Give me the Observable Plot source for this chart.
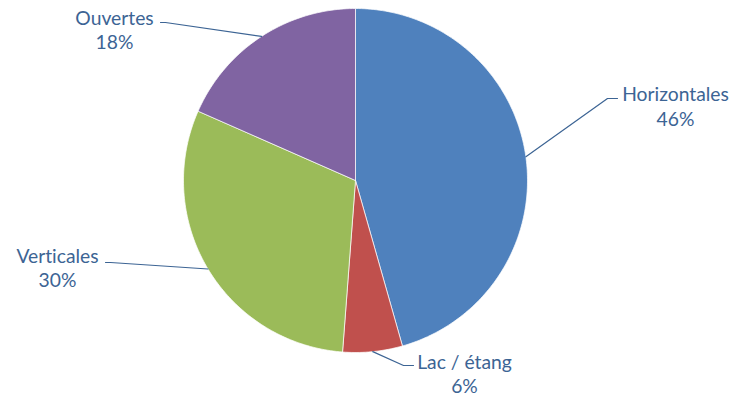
<!DOCTYPE html>
<html><head><meta charset="utf-8">
<script src="https://cdn.jsdelivr.net/npm/d3@7"></script>
<script src="https://cdn.jsdelivr.net/npm/@observablehq/plot@0.6"></script>
<style>body{margin:0;background:#fff} svg text{font-variant-ligatures:none;font-feature-settings:"liga" 0}</style>
</head><body><div id="chart"></div>
<script>
// ---- data ----
const categories = ["Horizontales", "Lac / étang", "Verticales", "Ouvertes"];
const values = [45.6, 5.6, 30.4, 18.4];
const pctLabels = ["46%", "6%", "30%", "18%"];
const colors = ["#4F81BD", "#C0504D", "#9BBB59", "#8064A2"];

// ---- layout ----
const W = 733, H = 397;
const center = [355, 180], radius = 172;
const labelCenters = [[675, 100.5], [464, 368], [57, 262], [114, 24]]; // x centre, first-line baseline
const lineGap = 24.5;
const elbows = [[607, 98], [403, 365], [110, 262], [165, 22]];
const ends = [[617, 98], [413, 365], [105, 262], [160, 22]];
const textColor = "#3C6494";
const fontSize = 19.3;

const data = categories.map((c, i) => ({cat: c, value: values[i], pct: pctLabels[i], color: colors[i]}));
const arcs = d3.pie().sort(null).value(d => d.value)(data);
const pt = (a, r) => [center[0] + r * Math.sin(a), center[1] - r * Math.cos(a)];

const slicePts = [];
arcs.forEach(a => {
  slicePts.push({cat: a.data.cat, color: a.data.color, x: center[0], y: center[1]});
  const n = Math.max(4, Math.ceil((a.endAngle - a.startAngle) / (Math.PI / 180)));
  for (let k = 0; k <= n; k++) {
    const ang = a.startAngle + (a.endAngle - a.startAngle) * k / n;
    const [x, y] = pt(ang, radius);
    slicePts.push({cat: a.data.cat, color: a.data.color, x, y});
  }
  slicePts.push({cat: a.data.cat, color: a.data.color, x: center[0], y: center[1]});
});

const leaderPts = [];
arcs.forEach((a, i) => {
  const [x0, y0] = pt((a.startAngle + a.endAngle) / 2, radius);
  leaderPts.push({cat: a.data.cat, x: x0, y: y0});
  leaderPts.push({cat: a.data.cat, x: elbows[i][0], y: elbows[i][1]});
  leaderPts.push({cat: a.data.cat, x: ends[i][0], y: ends[i][1]});
});

const textRows = [];
data.forEach((d, i) => {
  const [x, b] = labelCenters[i];
  textRows.push({x, y: b - 0.32 * fontSize, text: d.cat});
  textRows.push({x, y: b + lineGap - 0.32 * fontSize, text: d.pct});
});

const chart = Plot.plot({
  width: W, height: H, margin: 0,
  x: {domain: [0, W], range: [0, W], axis: null},
  y: {domain: [0, H], range: [0, H], axis: null},
  color: {type: "identity"},
  marks: [
    Plot.line(slicePts, {x: "x", y: "y", z: "cat", fill: "color", stroke: "white", strokeWidth: 0.7, strokeLinejoin: "round"}),
    Plot.line(leaderPts, {x: "x", y: "y", z: "cat", stroke: textColor, strokeWidth: 1.2}),
    Plot.text(textRows, {x: "x", y: "y", text: "text", fill: textColor, fontSize, fontFamily: "Lato", textAnchor: "middle", lineAnchor: "middle"})
  ]
});
document.getElementById("chart").appendChild(chart);
</script>
</body></html>
